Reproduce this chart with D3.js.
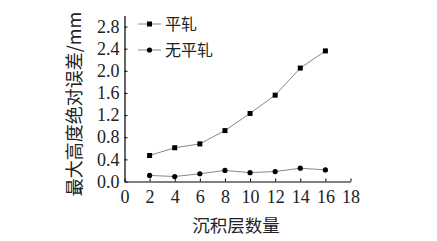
<!DOCTYPE html>
<html><head><meta charset="utf-8">
<script src="https://cdn.jsdelivr.net/npm/d3@7"></script>
<style>body{margin:0;background:#fff}</style>
</head><body>
<svg id="c" width="437" height="241"></svg>
<script>
const layers = [2, 4, 6, 8, 10, 12, 14, 16];
const rolled = [0.47, 0.61, 0.68, 0.92, 1.23, 1.56, 2.05, 2.36];
const unrolled = [0.11, 0.09, 0.14, 0.20, 0.16, 0.18, 0.24, 0.21];
const xTicks = [0, 2, 4, 6, 8, 10, 12, 14, 16, 18];
const yTicks = [0.0, 0.4, 0.8, 1.2, 1.6, 2.0, 2.4, 2.8];
const seriesNames = ["平轧", "无平轧"];
const xLabel = "沉积层数量";
const yLabel = "最大高度绝对误差/mm";

const svg = d3.select("#c");
const x = d3.scaleLinear().domain([0, 18]).range([124.5, 350.5]);
const y = d3.scaleLinear().domain([0, 3.0]).range([181.5, 15.5]);
const serif = "'Liberation Serif', 'Times New Roman', serif";
const cjk = "'Noto Sans CJK SC', sans-serif";

const xa = svg.append("g").attr("transform", `translate(0,${y(0)})`)
  .call(d3.axisBottom(x).tickValues(xTicks).tickSizeInner(-3).tickSizeOuter(0).tickPadding(9).tickFormat(d3.format("d")));
const ya = svg.append("g").attr("transform", `translate(${x(0)},0)`)
  .call(d3.axisLeft(y).tickValues(yTicks).tickSizeInner(-3).tickSizeOuter(0).tickPadding(5).tickFormat(d3.format(".1f")));
[xa, ya].forEach(a => {
  a.attr("font-family", null).attr("font-size", null);
  a.select(".domain").attr("stroke", "#000").attr("stroke-width", 1.2);
  a.selectAll(".tick line").attr("stroke", "#000");
  a.selectAll("text").style("font-family", serif).style("font-size", "18px").attr("fill", "#222");
});

const line = d3.line().x((d, i) => x(layers[i])).y(d => y(d));
[rolled, unrolled].forEach(s => {
  svg.append("path").attr("d", line(s)).attr("fill", "none").attr("stroke", "#888").attr("stroke-width", 1);
});
svg.selectAll(".sq").data(rolled).enter().append("rect")
  .attr("x", (d, i) => x(layers[i]) - 2.5).attr("y", d => y(d) - 2.5)
  .attr("width", 5).attr("height", 5).attr("fill", "#000");
svg.selectAll(".ci").data(unrolled).enter().append("circle")
  .attr("cx", (d, i) => x(layers[i])).attr("cy", d => y(d)).attr("r", 2.6).attr("fill", "#000");

// legend
const lg = [{y: 24, n: seriesNames[0], t: "sq"}, {y: 50, n: seriesNames[1], t: "ci"}];
lg.forEach(l => {
  svg.append("line").attr("x1", 138).attr("x2", 161).attr("y1", l.y).attr("y2", l.y).attr("stroke", "#888");
  if (l.t === "sq") svg.append("rect").attr("x", 147).attr("y", l.y - 2.5).attr("width", 5).attr("height", 5).attr("fill", "#000");
  else svg.append("circle").attr("cx", 149.5).attr("cy", l.y).attr("r", 2.6).attr("fill", "#000");
  svg.append("text").attr("x", 165).attr("y", l.y + 6).text(l.n)
    .style("font-family", cjk).style("font-size", "16px").attr("fill", "#222");
});

svg.append("text").attr("x", 236).attr("y", 232).attr("text-anchor", "middle").text(xLabel)
  .style("font-family", cjk).style("font-size", "17.5px").attr("fill", "#222");
svg.append("text").attr("transform", "translate(81,104) rotate(-90)").attr("text-anchor", "middle").text(yLabel)
  .style("font-family", cjk).style("font-size", "18px").attr("fill", "#222");
</script>
</body></html>
